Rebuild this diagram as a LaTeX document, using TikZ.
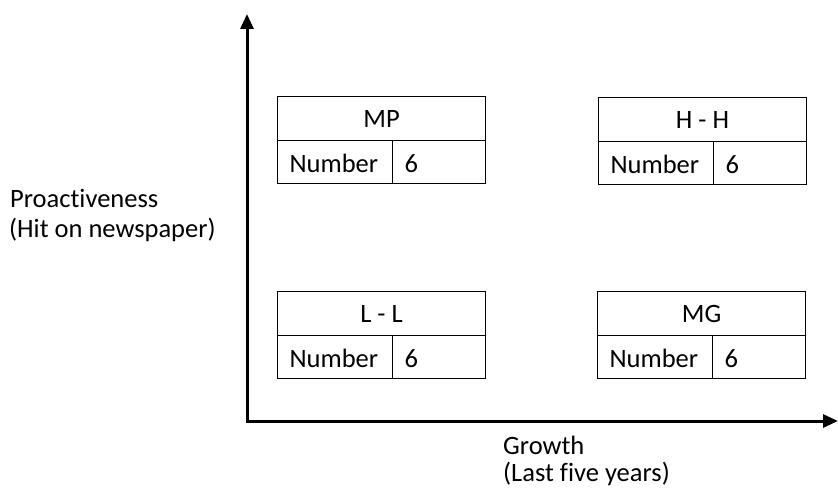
\documentclass[tikz,border=0pt]{standalone}
\usepackage{fontspec}
\setmainfont{Carlito}[Ligatures={NoCommon}]
\usetikzlibrary{arrows.meta}
\begin{document}
\begin{tikzpicture}[x=1pt,y=-1pt,
  txt/.style={font=\fontsize{26.5}{29}\selectfont},
  head/.style={draw, line width=1.1pt, minimum width=208pt, minimum height=44pt, inner sep=0pt, text height=20.5pt, text depth=2.5pt, txt, anchor=north west},
  numcell/.style={draw, line width=1.1pt, minimum height=43pt, text width=91pt, text height=22pt, text depth=1pt, inner xsep=12pt, inner ysep=0pt, align=left, txt, anchor=north west},
  valcell/.style={draw, line width=1.1pt, minimum height=43pt, text width=69pt, text height=22pt, text depth=1pt, inner xsep=12pt, inner ysep=0pt, align=left, txt, anchor=north west},
  axis/.style={line width=3pt, -{Triangle[length=15pt,width=13pt]}},
  lbl/.style={txt, anchor=base west, inner sep=0pt}]
\useasboundingbox (0,0) rectangle (838,489);
% axes
\coordinate (origin) at (247,421);
\coordinate (ytop) at (247,14);
\coordinate (xend) at (838,421);
\draw[axis] (origin) -- (ytop);
\draw[axis] ([xshift=-1.5pt]origin) -- (xend);
% MP box
\node[head] (mph) at (277,96) {MP};
\node[numcell] (mpn) at (277,140) {Number};
\node[valcell] (mpv) at (392,140) {6};
% H-H box
\node[head] (hhh) at (598,97) {H - H};
\node[numcell] (hhn) at (598,141) {Number};
\node[valcell] (hhv) at (713,141) {6};
% L-L box
\node[head] (llh) at (277,291) {L - L};
\node[numcell] (lln) at (277,335) {Number};
\node[valcell] (llv) at (392,335) {6};
% MG box
\node[head] (mgh) at (597,291) {MG};
\node[numcell] (mgn) at (597,335) {Number};
\node[valcell] (mgv) at (712,335) {6};
% axis labels
\node[lbl] (ylab1) at (10,208) {Proactiveness};
\node[lbl] (ylab2) at (9,237) {(Hit on newspaper)};
\node[lbl] (xlab1) at (503,454) {Growth};
\node[lbl] (xlab2) at (503,481) {(Last five years)};
\end{tikzpicture}
\end{document}
